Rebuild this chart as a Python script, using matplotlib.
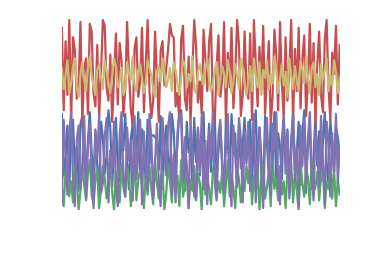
import matplotlib
matplotlib.use("Agg")
import matplotlib.pyplot as plt
import numpy as np

# five noisy series (0-100 scale)
red = [95, 52, 88, 60, 99, 47, 90, 83, 58, 66,
       98, 45, 74, 79, 50, 97, 93, 61, 54, 86,
       48, 71, 99, 96, 64, 57, 81, 46, 69, 92,
       55, 87, 78, 49, 63, 98, 72, 52, 45, 84,
       90, 59, 67, 95, 51, 76, 99, 62, 48, 57,
       93, 70, 46, 83, 88, 65, 74, 84, 97, 91,
       90, 54, 61, 47, 89, 96, 58, 52, 80, 45,
       73, 99, 85, 56, 67, 50, 94, 79, 62, 88,
       97, 51, 46, 75, 91, 59, 68, 98, 45, 82,
       64, 95, 53, 71, 99, 86, 49, 60, 93, 66,
       58, 92, 47, 99, 77, 54, 85, 63, 96, 50,
       70, 88, 45, 59, 94, 81, 52, 98, 66, 48,
       90, 57, 73, 99, 46, 84, 62, 95, 53, 79,
       91, 49, 68, 97, 56, 87, 45, 76, 93, 60,
       51, 89, 99, 64, 47, 82, 71, 96, 55, 86]

gold = [74, 63, 70, 78, 61, 66, 75, 79, 64, 59,
        71, 77, 68, 62, 74, 80, 70, 65, 60, 73,
        76, 69, 63, 78, 72, 66, 61, 70, 79, 75,
        64, 67, 74, 60, 63, 77, 71, 68, 80, 65,
        62, 73, 76, 69, 61, 66, 78, 74, 70, 63,
        59, 72, 75, 67, 79, 71, 64, 68, 74, 62,
        77, 73, 66, 60, 69, 78, 75, 64, 71, 67,
        80, 63, 61, 72, 76, 70, 65, 74, 79, 68,
        62, 66, 73, 77, 60, 69, 75, 71, 64, 78,
        72, 61, 67, 76, 70, 63, 79, 74, 65, 60,
        67, 75, 62, 79, 70, 64, 77, 60, 73, 69,
        78, 63, 71, 66, 80, 74, 61, 68, 76, 65,
        72, 59, 79, 70, 63, 75, 67, 62, 78, 73,
        66, 80, 69, 61, 74, 77, 64, 71, 60, 76,
        68, 73, 79, 62, 70, 65, 78, 72, 61, 69]

blue = [50, 18, 27, 44, 12, 39, 47, 21, 33, 10,
        45, 49, 25, 16, 36, 51, 30, 14, 41, 23,
        9, 46, 38, 19, 28, 52, 43, 12, 34, 48,
        22, 15, 40, 31, 50, 26, 11, 37, 45, 20,
        29, 51, 17, 42, 35, 13, 47, 24, 39, 39,
        38, 36, 21, 49, 11, 32, 44, 27, 16, 50,
        41, 19, 35, 52, 52, 23, 10, 46, 30, 37,
        14, 48, 25, 42, 18, 33, 51, 12, 28, 45,
        20, 39, 49, 15, 31, 43, 24, 9, 47, 36,
        17, 50, 29, 40, 13, 44, 22, 34, 48, 26,
        31, 47, 14, 38, 52, 20, 43, 27, 10, 49,
        35, 18, 45, 24, 51, 12, 40, 33, 16, 48,
        26, 42, 9, 37, 50, 21, 30, 46, 13, 39,
        52, 19, 34, 44, 11, 28, 49, 23, 41, 15,
        36, 51, 25, 12, 47, 32, 20, 43, 38, 29]

purple = [3, 47, 29, 8, 40, 51, 15, 2, 36, 44,
          11, 24, 49, 6, 33, 45, 19, 1, 42, 27,
          50, 9, 14, 38, 48, 4, 31, 22, 46, 12,
          2, 39, 51, 18, 7, 43, 26, 35, 5, 49,
          16, 30, 47, 3, 41, 21, 10, 50, 37, 6,
          25, 45, 13, 2, 48, 34, 18, 44, 51, 8,
          29, 4, 40, 50, 50, 15, 38, 23, 1, 46,
          32, 7, 6, 43, 20, 49, 11, 36, 3, 42,
          27, 51, 14, 5, 39, 47, 22, 9, 33, 50,
          17, 2, 44, 28, 12, 48, 37, 4, 41, 24,
          46, 10, 35, 50, 4, 27, 43, 16, 1, 39,
          48, 21, 8, 45, 31, 51, 13, 3, 37, 49,
          19, 41, 6, 28, 50, 15, 34, 2, 44, 23,
          47, 9, 38, 51, 18, 5, 42, 30, 12, 49,
          25, 3, 46, 36, 7, 40, 20, 50, 14, 33]

green = [12, 2, 20, 25, 7, 15, 4, 22, 18, 0,
         10, 24, 13, 5, 19, 26, 8, 3, 16, 21,
         1, 11, 23, 17, 6, 14, 25, 9, 0, 20,
         15, 4, 24, 12, 7, 22, 18, 2, 10, 26,
         5, 16, 21, 13, 1, 19, 8, 23, 11, 3,
         25, 14, 6, 17, 20, 0, 9, 24, 15, 4,
         22, 12, 18, 2, 26, 7, 13, 21, 1, 16,
         10, 23, 5, 19, 14, 0, 25, 8, 17, 11,
         3, 21, 24, 6, 15, 9, 20, 2, 13, 26,
         7, 18, 12, 1, 22, 16, 4, 19, 10, 23,
         14, 25, 3, 18, 9, 22, 0, 16, 24, 6,
         12, 20, 2, 26, 11, 17, 5, 23, 8, 15,
         1, 21, 13, 25, 4, 19, 10, 0, 24, 14,
         7, 22, 17, 3, 26, 9, 12, 20, 5, 18,
         23, 1, 15, 11, 25, 6, 21, 2, 16, 8]

x = np.arange(len(red))

fig = plt.figure(figsize=(3.77, 2.59), dpi=100)
ax = fig.add_axes([0.164, 0.189, 0.737, 0.741])

# drawing order like the seaborn deep cycle: blue, green, red, purple, gold
ax.plot(x, blue, color="#4C72B0", lw=1.6)
ax.plot(x, green, color="#55A868", lw=1.6)
ax.plot(x, red, color="#C44E52", lw=1.6)
ax.plot(x, purple, color="#8172B2", lw=1.6)
ax.plot(x, gold, color="#CCB974", lw=1.6)

ax.set_xlim(0, len(red) - 1)
ax.set_ylim(0, 100)
ax.axis("off")

fig.savefig("out.png", dpi=100)
